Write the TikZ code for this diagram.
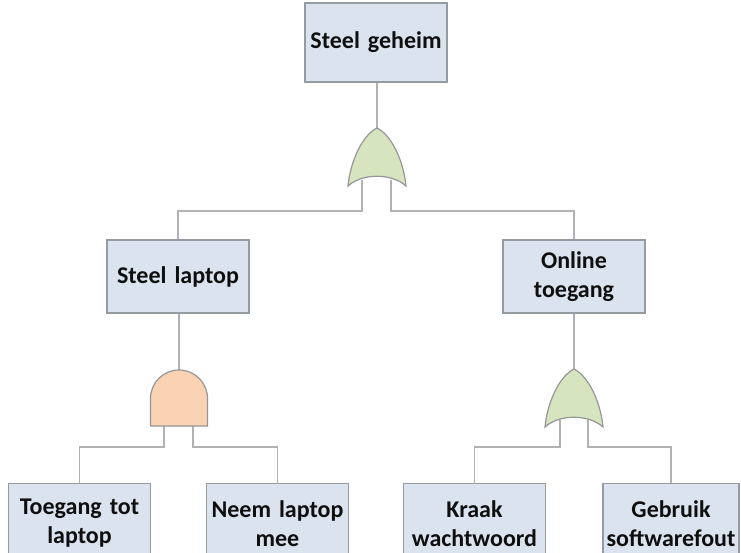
\documentclass[tikz,border=0pt]{standalone}
\usepackage{fontspec}
\setmainfont[WordSpace=0.85]{Carlito}
\definecolor{boxfill}{RGB}{218,227,238}
\definecolor{boxline}{RGB}{150,155,162}
\definecolor{wire}{RGB}{178,178,178}
\definecolor{orfill}{RGB}{214,229,192}
\definecolor{andfill}{RGB}{250,210,180}
\definecolor{gateline}{RGB}{150,150,150}
\definecolor{txt}{RGB}{15,15,15}
\tikzset{
  event/.style={draw=boxline, line width=1.4pt, fill=boxfill, minimum width=142pt,
    text width=136pt, align=center, inner sep=0pt, text=txt,
    font=\fontsize{24}{29}\selectfont\bfseries},
  wireline/.style={draw=wire, line width=1.5pt},
  gatestyle/.style={draw=gateline, line width=1.2pt},
}
\newcommand{\orgate}[2]{% #1 = tip coordinate name, #2 = fill
  \path[gatestyle, fill=#2] (#1) .. controls +(-16,8) and +(2,-22) .. ++(-29,58)
     .. controls +(14,-13) and +(-14,-13) .. ++(58,0)
     .. controls +(-2,-22) and +(16,8) .. cycle;}
\begin{document}
\begin{tikzpicture}[x=1pt,y=-1pt]
\useasboundingbox (0,0) rectangle (741,553);
% events
\node[event, minimum height=79pt] (top) at (376,42.5) {Steel geheim};
\node[event, minimum height=73pt] (laptop) at (178,276.5) {Steel laptop};
\node[event, minimum height=73pt] (online) at (574,276.5) {Online\\toegang};
\node[event, minimum height=79pt, anchor=north] (toegang) at (79.5,483) {Toegang tot\\laptop};
\node[event, minimum height=79pt, anchor=north] (neem) at (277.5,483) {Neem laptop\\mee};
\node[event, minimum height=79pt, anchor=north] (kraak) at (474.5,483) {Kraak\\wachtwoord};
\node[event, minimum height=79pt, minimum width=136pt, text width=134pt, anchor=north] (gebruik) at (671,483) {Gebruik\\softwarefout};
% gate anchor points
\coordinate (or1) at (377,128);
\coordinate (or1a) at (362,180);
\coordinate (or1b) at (391,180);
\coordinate (and1) at (179,370);
\coordinate (and1a) at (164,420);
\coordinate (and1b) at (193,420);
\coordinate (or2) at (574,369);
\coordinate (or2a) at (560,420);
\coordinate (or2b) at (588,420);
% connectors
\draw[wireline] (top.south -| or1) -- (or1);
\draw[wireline] (or1a) |- (178,211) -- (laptop.north);
\draw[wireline] (or1b) |- (574,211) -- (online.north);
\draw[wireline] (laptop.south -| and1) -- (and1);
\draw[wireline] (and1a) |- (79.5,447) -- (toegang.north);
\draw[wireline] (and1b) |- (277.5,447) -- (neem.north);
\draw[wireline] (online.south) -- (or2);
\draw[wireline] (or2a) |- (474.5,447) -- (kraak.north);
\draw[wireline] (or2b) |- (671,447) -- (gebruik.north);
% gates
\orgate{or1}{orfill}
\orgate{or2}{orfill}
\path[gatestyle, fill=andfill] (150.5,426) -- (150.5,398.5) arc[start angle=180, end angle=360, radius=28.5] -- (207.5,426) -- cycle;
\end{tikzpicture}
\end{document}
